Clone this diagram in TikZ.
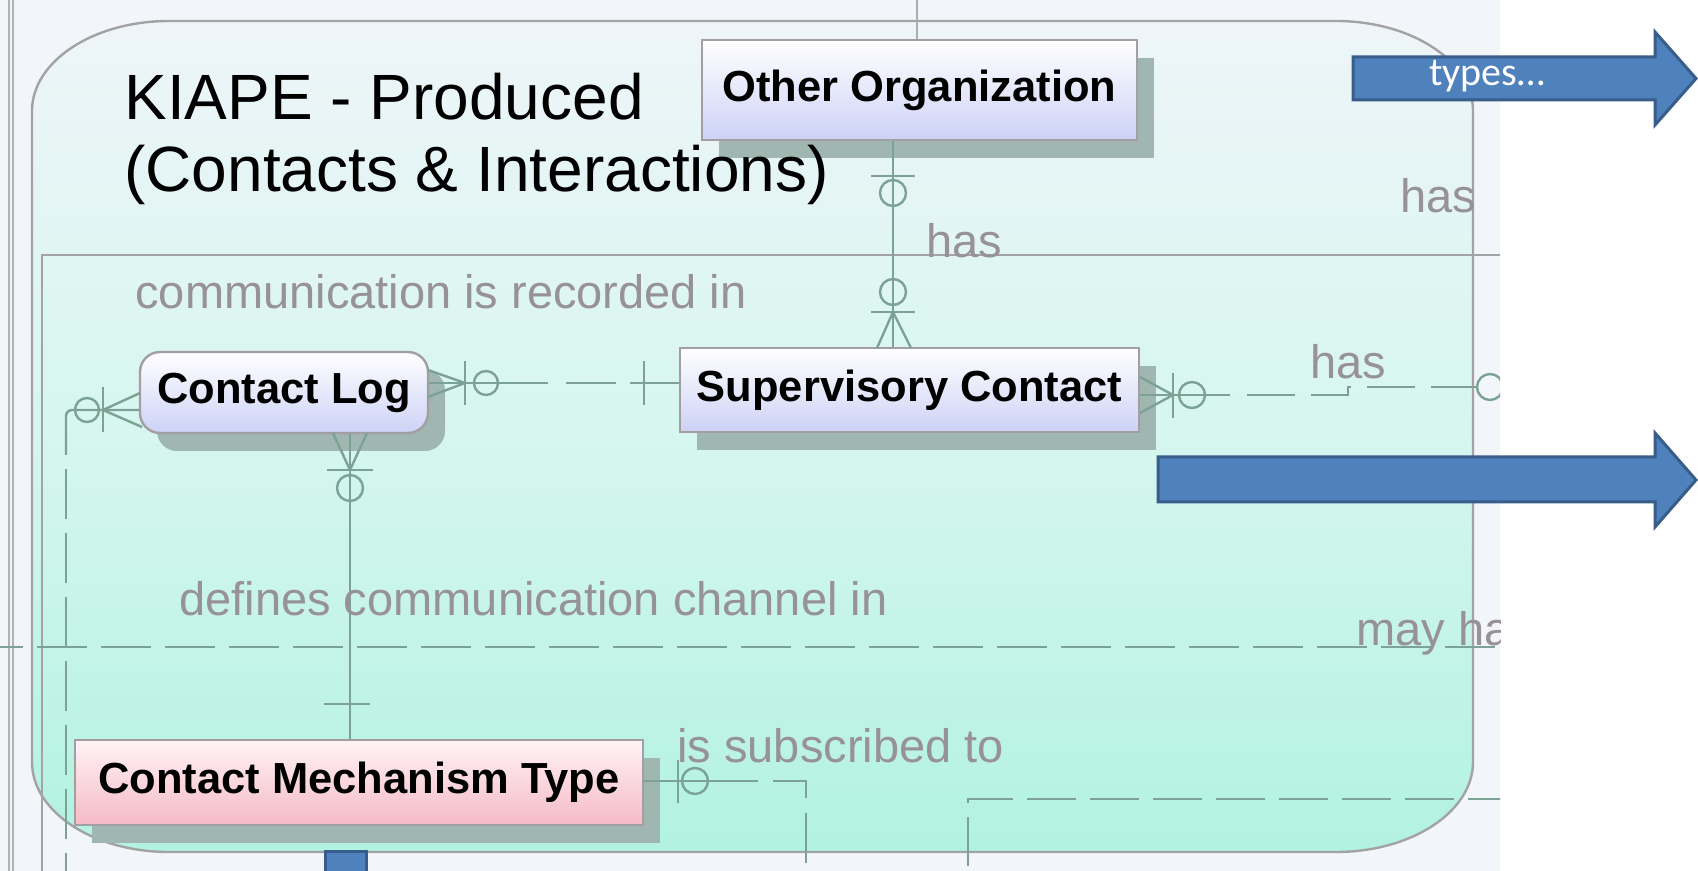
\documentclass[tikz,border=0pt]{standalone}
\usepackage{fontspec}
\setmainfont{Liberation Sans}
\newfontfamily\calibri{Carlito}
\usetikzlibrary{shadows,calc}

\definecolor{pagebg}{HTML}{F2F5FA}
\definecolor{areatop}{HTML}{EEF5F8}
\definecolor{areamid}{HTML}{D6F6EF}
\definecolor{areabot}{HTML}{B2F2E0}
\definecolor{areaedge}{HTML}{A3A3A3}
\definecolor{conn}{HTML}{7BA294}
\definecolor{lbl}{HTML}{979297}
\definecolor{entedge}{HTML}{A29EA2}
\definecolor{enttop}{HTML}{FFFFFF}
\definecolor{entbot}{HTML}{CDD2F6}
\definecolor{pinktop}{HTML}{FFF3F6}
\definecolor{pinkbot}{HTML}{F5BAC5}
\definecolor{shadowc}{HTML}{A0B6B1}
\definecolor{bluefill}{HTML}{4F81BD}
\definecolor{blueedge}{HTML}{385D8A}

\tikzset{
  entity/.style={draw=entedge, line width=1.2pt, top color=enttop, bottom color=entbot,
    inner sep=0pt, font=\fontsize{21.75}{24}\selectfont\bfseries,
    drop shadow={shadow xshift=8.5pt, shadow yshift=-9pt, fill=shadowc, opacity=1}},
  typeentity/.style={entity, top color=pinktop, bottom color=pinkbot},
  er/.style={draw=conn, line width=1.2pt},
  erdash/.style={er, dash pattern=on 25pt off 7pt},
  lbltext/.style={text=lbl, font=\fontsize{23.5}{28}\selectfont, inner sep=0pt, anchor=base west},
  frame/.style={draw=areaedge, line width=1.2pt},
  bluearrow/.style={fill=bluefill, draw=blueedge, line width=1.5pt, line join=miter}
}

\begin{document}
\begin{tikzpicture}[x=0.5pt, y=-0.5pt]
\useasboundingbox (0,0) rectangle (1698,871);
\fill[white] (0,0) rectangle (1698,871);

\begin{scope}
\clip (0,0) rectangle (1500,871);
\fill[pagebg] (0,0) rectangle (1500,871);

% subject area with elliptical corners
\path[frame, top color=areatop, bottom color=areabot, middle color=areamid]
  (169,21) -- (1336,21) arc[start angle=-90, end angle=0, x radius=137, y radius=90]
  -- (1473,762) arc[start angle=0, end angle=90, x radius=137, y radius=90]
  -- (169,852) arc[start angle=90, end angle=180, x radius=137, y radius=90]
  -- (32,111) arc[start angle=180, end angle=270, x radius=137, y radius=90] -- cycle;

% nested area and page rulings
\draw[frame] (42,875) -- (42,255) -- (1505,255);
\draw[draw=areaedge!85, line width=0.8pt] (9,-2) -- (9,875);
\draw[draw=areaedge!85, line width=0.8pt] (13,-2) -- (13,875);

% entities
\node[entity, minimum width=217.5pt, minimum height=50pt] (oo) at (919.5,90) {Other Organization};
\node[entity, rounded corners=10pt, minimum width=144pt, minimum height=40.5pt] (cl) at (284,392.5) {Contact Log};
\node[entity, minimum width=229.5pt, minimum height=42pt] (sc) at (909.5,390) {Supervisory Contact};
\node[typeentity, minimum width=284pt, minimum height=42.5pt] (cmt) at (359,782.5) {Contact Mechanism Type};

% reference positions of the relationship lines
\coordinate (xa) at (893,0);
\coordinate (xb) at (350,0);
\coordinate (xc) at (917,0);
\coordinate (ya) at (0,383);
\coordinate (yb) at (0,410);
\coordinate (yc) at (0,395);
\coordinate (yd) at (0,781);
\coordinate (topend) at (917,-2);

% Other Organization -- Supervisory Contact
\draw[er] (oo.south -| xa) -- (sc.north -| xa);
\draw[er] (871,176) -- (915,176);
\draw[er] (893,193) circle[radius=13];
\draw[er] (893,292) circle[radius=13];
\draw[er] (871,312) -- (915,312);
\draw[er] (877,348) -- (893,312) -- (911,348);

% line leaving Other Organization upwards
\draw[er, draw=areaedge!90] (topend) -- (oo.north -| xc);

% Contact Log -- Supervisory Contact
\draw[er] (cl.east |- ya) -- (548,383);
\draw[erdash] (566,383) -- (sc.west |- ya);
\draw[er] (428,370) -- (465,383) -- (428,397);
\draw[er] (465,361) -- (465,405);
\draw[er] (486,383) circle[radius=12];
\draw[er] (644,361) -- (644,405);

% Contact Log, left side
\coordinate (clbend) at (66,410);
\coordinate (clbot) at (66,875);
\draw[er, rounded corners=3pt] (cl.west |- yb) -- (clbend) -- (66,455);
\draw[erdash] (66,469) -- (clbot);
\draw[er] (140,393) -- (103,410) -- (142,427);
\draw[er] (103,387) -- (103,432);
\draw[er] (87,410) circle[radius=12];

% Contact Log -- Contact Mechanism Type
\draw[er] (cl.south -| xb) -- (cmt.north -| xb);
\draw[er] (333,433) -- (350,470) -- (367,433);
\draw[er] (327,470) -- (373,470);
\draw[er] (350,488) circle[radius=13];
\draw[er] (324,704) -- (370,704);

% Supervisory Contact, right side
\coordinate (scend) at (1477,387);
\draw[er] (sc.east |- yc) -- (1230,395);
\draw[er, dash pattern=on 24pt off 8pt] (1247,395) -- (1348,395) -- (1348,387) -- (scend);
\draw[er] (1140,377) -- (1173,395) -- (1140,413);
\draw[er] (1173,373) -- (1173,418);
\draw[er] (1192,395) circle[radius=13];
\draw[er] (1490,387) circle[radius=13];

% Contact Mechanism Type, right side
\coordinate (cmtend) at (806,866);
\draw[er] (cmt.east |- yd) -- (758,781);
\draw[er, dash pattern=on 25pt off 7.5pt] (773,781) -- (806,781) -- (cmtend);
\draw[er] (678,760) -- (678,803);
\draw[er] (695,781) circle[radius=13];

% further relationship lines crossing the area
\coordinate (ra) at (968,866);
\coordinate (rb) at (1505,799);
\draw[er, dash pattern=on 24.5pt off 7pt] (ra) -- (968,799) -- (rb);
\coordinate (la) at (0,647);
\coordinate (lb) at (1505,647);
\draw[erdash, dash phase=13.5pt] (la) -- (lb);

% relationship names
\node[lbltext] (l1) at (135,309) {communication is recorded in};
\node[lbltext] (l2) at (926,258) {has};
\node[lbltext] (l3) at (1400,213) {has};
\node[lbltext] (l4) at (1310,379) {has};
\node[lbltext] (l5) at (179,615) {defines communication channel in};
\node[lbltext] (l6) at (1356,645) {may ha};
\node[lbltext] (l7) at (677,762) {is subscribed to};

% area title
\node[anchor=base west, inner sep=0pt, font=\fontsize{32}{36}\selectfont] (t1) at (124,120) {KIAPE - Produced};
\node[anchor=base west, inner sep=0pt, font=\fontsize{32}{36}\selectfont] (t2) at (124,192) {(Contacts \& Interactions)};
\end{scope}

% block arrows
\draw[bluearrow] (1353,57) -- (1655,57) -- (1655,32) -- (1696,78.5) -- (1655,125) -- (1655,100) -- (1353,100) -- cycle;
\node[anchor=base west, inner sep=0pt, text=white, font=\calibri\fontsize{20}{24}\selectfont] (typ) at (1429,86) {types…};
\draw[bluearrow] (1158,457) -- (1655,457) -- (1655,433) -- (1696,480) -- (1655,527) -- (1655,502) -- (1158,502) -- cycle;
\draw[bluearrow] (325,880) -- (325,851) -- (366,851) -- (366,880);
\end{tikzpicture}
\end{document}
